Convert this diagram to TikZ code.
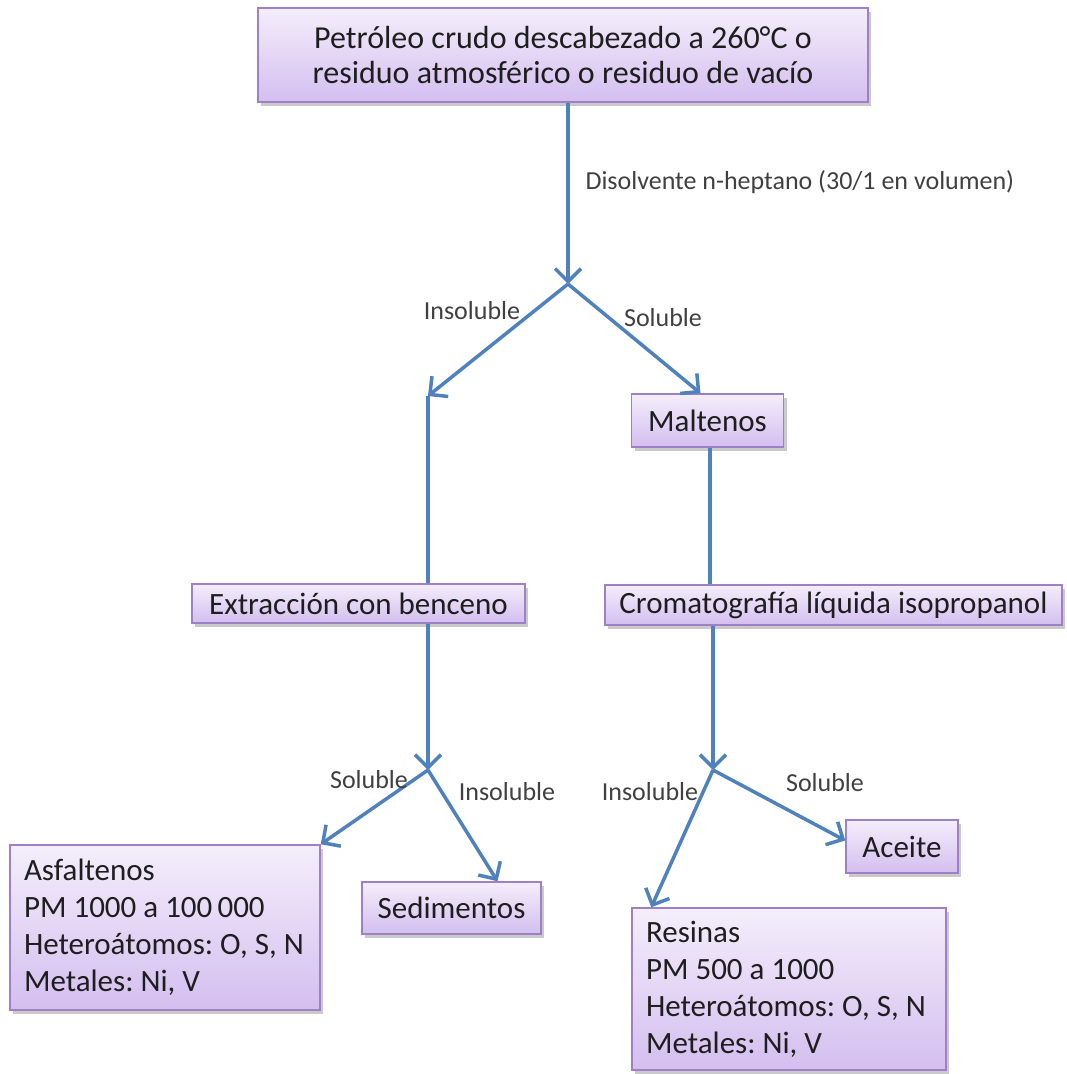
\documentclass[tikz,border=0pt]{standalone}
\usepackage{fontspec}
\setmainfont{Carlito}
\usepackage{xcolor}
\usepackage{tikz}
\usetikzlibrary{arrows.meta,positioning,shadows}
\frenchspacing

\definecolor{flowblue}{RGB}{79,129,189}
\definecolor{boxtop}{RGB}{244,238,251}
\definecolor{boxbottom}{RGB}{212,190,239}
\definecolor{boxedge}{RGB}{158,128,198}
\definecolor{inktext}{RGB}{30,30,30}

\begin{document}
\begin{tikzpicture}[
    x=1pt, y=-1pt,
    box/.style={rectangle, draw=boxedge, line width=1.5pt, top color=boxtop, bottom color=boxbottom, inner sep=0pt, text=inktext, font=\fontsize{31}{37}\selectfont, drop shadow={shadow xshift=3pt, shadow yshift=-4pt, fill=gray!70, opacity=0.6}},
    listbox/.style={box, align=flush left, inner xsep=14pt},
    flow/.style={-{Straight Barb[length=13pt, width=26pt]}, line width=3.5pt, flowblue},
    plain/.style={line width=3.5pt, flowblue},
    lbl/.style={font=\fontsize{26}{30}\selectfont, text=inktext!85}
]
    \useasboundingbox (0,0) rectangle (1066,1074);

    % Feed box
    \node[box, minimum width=610pt, minimum height=94pt, align=flush center, font=\fontsize{32}{35}\selectfont] (feed) at (563,55)
        {Petróleo crudo descabezado a 260°C o\\residuo atmosférico o residuo de vacío};

    % First split (n-heptane)
    \coordinate (split1) at (568,284);
    \coordinate (lefttop) at (428,396);
    \node[box, minimum width=152pt, minimum height=53pt] (maltenos) at (707.5,420.5) {Maltenos};

    % Second level
    \node[box, minimum width=333pt, minimum height=39pt] (extract) at (358.5,603.5) {Extracción con benceno};
    \node[box, minimum width=457pt, minimum height=40pt] (cromat) at (833.5,605) {Cromatografía líquida isopropanol};

    % Splits below
    \coordinate (split2) at (428,770);
    \coordinate (split3) at (713,770);

    % Products
    \node[listbox, text width=282pt, minimum height=165pt] (asfal) at (165,927.5)
        {Asfaltenos\\PM 1000 a 100\,000\\Heteroátomos: O, S, N\\Metales: Ni, V};
    \node[box, minimum width=179pt, minimum height=52pt] (sediment) at (451.5,908) {Sedimentos};
    \node[box, minimum width=112pt, minimum height=53pt] (aceite) at (902,846.5) {Aceite};
    \node[listbox, text width=286pt, minimum height=162pt] (resinas) at (789,989)
        {Resinas\\PM 500 a 1000\\Heteroátomos: O, S, N\\Metales: Ni, V};

    % Arrows - top part
    \draw[flow] (feed.south -| split1) -- (split1);
    \draw[flow] (split1) -- (lefttop);
    \draw[flow] (split1) -- ([xshift=-7pt]maltenos.north);
    \draw[plain] (lefttop) -- (lefttop |- extract.north);
    \draw[plain] (maltenos.south -| 710,0) -- (cromat.north -| 710,0);

    % Arrows - bottom part
    \draw[flow] (extract.south -| split2) -- (split2);
    \draw[flow] (split2) -- (asfal.north east);
    \draw[flow] (split2) -- ([xshift=46pt]sediment.north);
    \draw[flow] (cromat.south -| split3) -- (split3);
    \draw[flow] (split3) -- ([xshift=20pt]resinas.north west);
    \draw[flow] (split3) -- ([yshift=6pt]aceite.west);

    % Labels
    \node[lbl, anchor=west] (solvent) at (582,182) {Disolvente n-heptano (30/1 en volumen)};
    \node[lbl] (insol1) at (472,311) {Insoluble};
    \node[lbl] (sol1) at (663,318) {Soluble};
    \node[lbl] (sol2) at (369,780) {Soluble};
    \node[lbl] (insol2) at (507,792) {Insoluble};
    \node[lbl] (insol3) at (650,792) {Insoluble};
    \node[lbl] (sol3) at (825,783) {Soluble};
\end{tikzpicture}
\end{document}
